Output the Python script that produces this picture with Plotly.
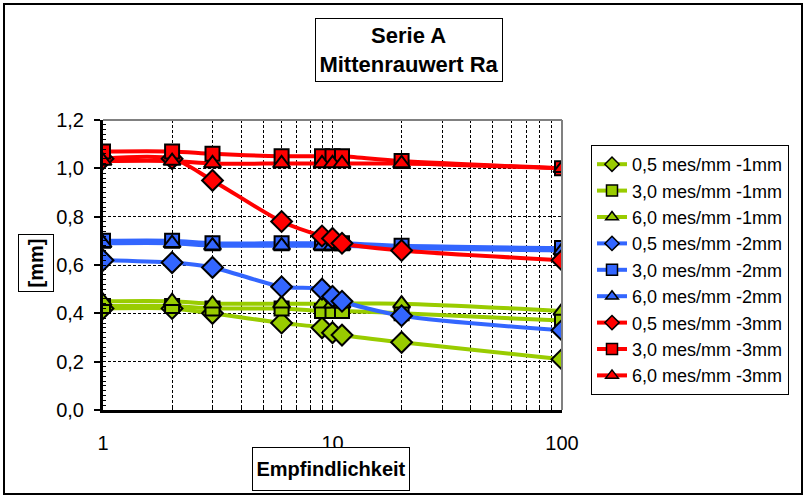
import plotly.graph_objects as go

# ---------------- data ----------------
x_vals = [1, 2, 3, 6, 9, 10, 11, 20, 100]

green_05 = [0.42, 0.42, 0.40, 0.36, 0.34, 0.32, 0.31, 0.28, 0.21]
green_30 = [0.43, 0.43, 0.42, 0.42, 0.41, 0.41, 0.41, 0.40, 0.37]
green_60 = [0.45, 0.45, 0.44, 0.44, 0.44, 0.44, 0.44, 0.44, 0.41]
blue_05 = [0.62, 0.61, 0.59, 0.51, 0.50, 0.47, 0.45, 0.39, 0.33]
blue_30 = [0.70, 0.70, 0.69, 0.69, 0.69, 0.69, 0.69, 0.68, 0.67]
blue_60 = [0.69, 0.69, 0.68, 0.68, 0.68, 0.68, 0.68, 0.67, 0.66]
red_05 = [1.04, 1.04, 0.95, 0.78, 0.72, 0.71, 0.69, 0.66, 0.62]
red_30 = [1.07, 1.07, 1.06, 1.05, 1.05, 1.05, 1.05, 1.03, 1.00]
red_60 = [1.03, 1.03, 1.02, 1.02, 1.02, 1.02, 1.02, 1.02, 1.00]

series_names = [
    "0,5 mes/mm -1mm", "3,0 mes/mm -1mm", "6,0 mes/mm -1mm",
    "0,5 mes/mm -2mm", "3,0 mes/mm -2mm", "6,0 mes/mm -2mm",
    "0,5 mes/mm -3mm", "3,0 mes/mm -3mm", "6,0 mes/mm -3mm",
]
series_values = [green_05, green_30, green_60,
                 blue_05, blue_30, blue_60,
                 red_05, red_30, red_60]

x_tickvals = [1, 2, 3, 4, 5, 6, 7, 8, 9, 10, 20, 30, 40, 50, 60, 70, 80, 90, 100]
x_ticktext = ["1", "", "", "", "", "", "", "", "", "10",
              "", "", "", "", "", "", "", "", "100"]

title_text = "<b>Serie A<br>Mittenrauwert Ra</b>"
x_title = "<b>Empfindlichkeit</b>"
y_title = "<b>[mm]</b>"

# ---------------- styles ----------------
GREEN = "#99CC00"
BLUE = "#3366FF"
RED = "#FF0000"
colors = [GREEN] * 3 + [BLUE] * 3 + [RED] * 3
symbols = ["diamond", "square", "triangle-up"] * 3
sizes = {"diamond": 16, "square": 14, "triangle-up": 15}
FONT = "Liberation Sans, Arial, sans-serif"

W, H = 805, 497
L, R, T, B = 103, 562, 120, 410  # plot area pixels


def px(xp):
    return (xp - L) / (R - L)


def py(yp):
    return (B - yp) / (B - T)


fig = go.Figure()

# lines first (under all markers)
for name, vals, c in zip(series_names, series_values, colors):
    fig.add_trace(go.Scatter(
        x=x_vals, y=vals, mode="lines", showlegend=False, hoverinfo="skip",
        line=dict(color=c, width=4, shape="spline", smoothing=0.8),
    ))

# markers
for name, vals, c, s in zip(series_names, series_values, colors, symbols):
    fig.add_trace(go.Scatter(
        x=x_vals, y=vals, mode="markers", name=name, showlegend=False,
        marker=dict(symbol=s, size=sizes[s], color=c,
                    line=dict(color="black", width=2)),
    ))

# legend entries
for i, (name, c, s) in enumerate(zip(series_names, colors, symbols)):
    fig.add_trace(go.Scatter(
        x=[None], y=[None], mode="lines+markers", name=name,
        line=dict(color=c, width=4),
        marker=dict(symbol=s, size=11, color=c,
                    line=dict(color="black", width=1.5)),
    ))

fig.update_layout(
    width=W, height=H,
    margin=dict(l=L, r=W - R, t=T, b=H - B, autoexpand=False),
    paper_bgcolor="white", plot_bgcolor="white",
    font=dict(family=FONT, size=20, color="black"),
    separators=",.",
    legend=dict(
        x=px(591), y=py(145), xanchor="left", yanchor="top",
        bgcolor="white", bordercolor="black", borderwidth=1,
        font=dict(family=FONT, size=18, color="black"),
        itemwidth=30, entrywidth=215, entrywidthmode="pixels",
    ),
    xaxis=dict(
        type="log", range=[0, 2],
        tickvals=x_tickvals, ticktext=x_ticktext,
        showgrid=True, gridcolor="black", gridwidth=1, griddash="3px,2px",
        showline=True, linecolor="black", linewidth=3,
        ticks="inside", ticklen=5, tickwidth=1, tickcolor="black",
        ticklabelstandoff=13,
        tickfont=dict(size=20),
        zeroline=False,
    ),
    yaxis=dict(
        range=[0, 1.2], dtick=0.2, tickformat=".1f",
        showgrid=True, gridcolor="black", gridwidth=1, griddash="3px,2px",
        showline=True, linecolor="black", linewidth=3,
        ticks="outside", ticklen=6, tickwidth=2, tickcolor="black",
        ticklabelstandoff=6,
        minor=dict(dtick=0.02, ticks="inside", ticklen=3, tickwidth=1,
                   tickcolor="black", showgrid=False),
        tickfont=dict(size=20),
        zeroline=False,
    ),
    showlegend=True,
)

shapes = [
    # gray plot frame top & right
    dict(type="line", xref="paper", yref="paper", x0=0, x1=1, y0=1, y1=1,
         line=dict(color="#808080", width=2)),
    dict(type="line", xref="paper", yref="paper", x0=1, x1=1, y0=0, y1=1,
         line=dict(color="#808080", width=2)),
    # outer chart border
    dict(type="rect", xref="paper", yref="paper",
         x0=px(4), x1=px(802), y0=py(4), y1=py(494),
         line=dict(color="black", width=2), layer="below"),
]
fig.update_layout(shapes=shapes)

fig.add_annotation(
    xref="paper", yref="paper", x=px(409), y=py(50),
    xanchor="center", yanchor="middle",
    text=title_text, showarrow=False, align="center",
    width=182, height=58,
    font=dict(family=FONT, size=22, color="black"),
    bordercolor="black", borderwidth=1, borderpad=2, bgcolor="white",
)
fig.add_annotation(
    xref="paper", yref="paper", x=px(331), y=py(469),
    xanchor="center", yanchor="middle",
    text=x_title, showarrow=False,
    width=152, height=38,
    font=dict(family=FONT, size=20, color="black"),
    bordercolor="black", borderwidth=1, borderpad=2, bgcolor="white",
)
fig.add_annotation(
    xref="paper", yref="paper", x=px(36), y=py(263),
    xanchor="center", yanchor="middle",
    text=y_title, showarrow=False, textangle=-90,
    width=52, height=30,
    font=dict(family=FONT, size=20, color="black"),
    bordercolor="black", borderwidth=1, borderpad=2, bgcolor="white",
)

fig.write_html("out.html",
               config={"displayModeBar": False},
               post_script="document.body.style.margin='0';"
                           "document.body.style.overflow='hidden';")
